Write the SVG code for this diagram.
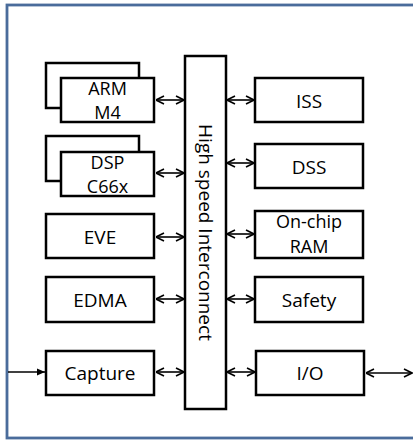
<svg xmlns="http://www.w3.org/2000/svg" width="413" height="441" viewBox="0 0 413 441">
<defs>
<style>
.box{fill:#fff;stroke:#000;stroke-width:2.5}
.t{font-family:"Open Sans","Liberation Sans",sans-serif;font-size:19px;fill:#000;text-anchor:middle}
.t2{font-size:18px}
.c{stroke:#000;stroke-width:1.6;fill:none}
.dbl{marker-start:url(#ah);marker-end:url(#ah)}
</style>
<marker id="ah" markerUnits="userSpaceOnUse" viewBox="0 0 10 10" refX="9.5" refY="5" markerWidth="10" markerHeight="10" orient="auto-start-reverse">
<path d="M1.5,1 L9.5,5 L1.5,9" fill="none" stroke="#000" stroke-width="1.6"/>
</marker>
<marker id="tri" markerUnits="userSpaceOnUse" viewBox="0 0 8 8" refX="8" refY="4" markerWidth="8" markerHeight="8" orient="auto">
<path d="M0,0.5 L8,4 L0,7.5 Z" fill="#000"/>
</marker>
</defs>
<rect x="7" y="5" width="420" height="433" fill="#fff" stroke="#4a6c9b" stroke-width="2.8"/>

<g id="arm">
<rect class="box" x="46" y="63" width="93" height="45"/>
<rect class="box" x="61" y="78" width="93" height="44"/>
<text class="t t2" x="107.5" y="95">ARM</text>
<text class="t t2" x="107.5" y="119">M4</text>
</g>
<g id="dsp">
<rect class="box" x="46" y="136" width="93" height="45"/>
<rect class="box" x="61" y="152" width="93" height="44"/>
<text class="t t2" x="107.5" y="169">DSP</text>
<text class="t t2" x="107.5" y="193">C66x</text>
</g>
<g id="eve">
<rect class="box" x="46" y="214" width="108" height="44"/>
<text class="t" x="100" y="244">EVE</text>
</g>
<g id="edma">
<rect class="box" x="46" y="277" width="108" height="45"/>
<text class="t" x="100" y="307">EDMA</text>
</g>
<g id="capture">
<rect class="box" x="46" y="351" width="108" height="44"/>
<text class="t" x="100" y="380">Capture</text>
</g>
<g id="interconnect">
<rect class="box" x="185" y="56" width="41" height="353"/>
<text class="t" transform="translate(199,232.5) rotate(90)">High speed Interconnect</text>
</g>
<g id="iss">
<rect class="box" x="255" y="78" width="108" height="44"/>
<text class="t" x="309" y="108">ISS</text>
</g>
<g id="dss">
<rect class="box" x="255" y="144" width="108" height="44"/>
<text class="t" x="309" y="174">DSS</text>
</g>
<g id="ram">
<rect class="box" x="255" y="211" width="108" height="47"/>
<text class="t t2" x="309" y="228">On-chip</text>
<text class="t t2" x="309" y="253">RAM</text>
</g>
<g id="safety">
<rect class="box" x="255" y="277" width="108" height="45"/>
<text class="t" x="309" y="307">Safety</text>
</g>
<g id="io">
<rect class="box" x="256" y="351" width="108" height="44"/>
<text class="t" x="310" y="380">I/O</text>
</g>

<g id="connectors">
<line class="c dbl" x1="156" y1="100" x2="184" y2="100"/>
<line class="c dbl" x1="156" y1="173" x2="184" y2="173"/>
<line class="c dbl" x1="156" y1="237" x2="184" y2="237"/>
<line class="c dbl" x1="156" y1="299" x2="184" y2="299"/>
<line class="c dbl" x1="156" y1="372" x2="184" y2="372"/>
<line class="c dbl" x1="227" y1="100" x2="254" y2="100"/>
<line class="c dbl" x1="227" y1="163" x2="254" y2="163"/>
<line class="c dbl" x1="227" y1="234" x2="254" y2="234"/>
<line class="c dbl" x1="227" y1="299" x2="254" y2="299"/>
<line class="c dbl" x1="227" y1="372" x2="255" y2="372"/>
<line class="c dbl" x1="366" y1="373" x2="412" y2="373"/>
<line class="c" x1="8" y1="372" x2="45" y2="372" marker-end="url(#tri)"/>
</g>
</svg>
